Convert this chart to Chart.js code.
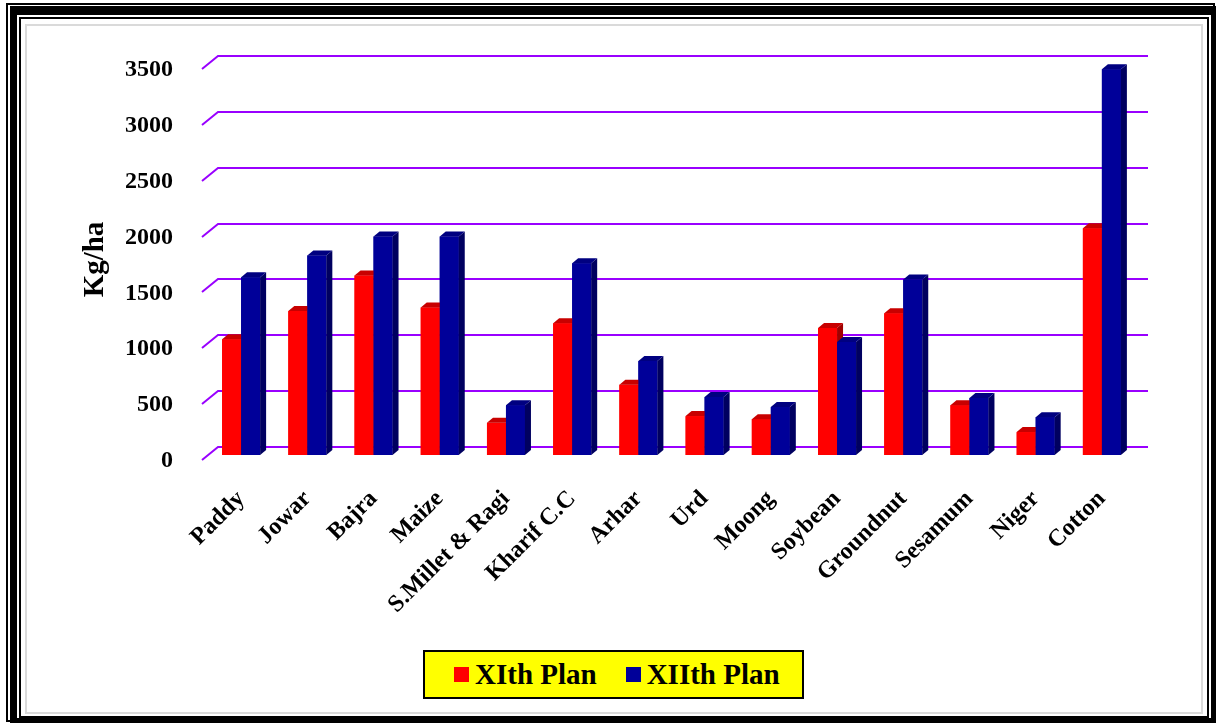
<!DOCTYPE html>
<html>
<head>
<meta charset="utf-8">
<script src="https://cdn.jsdelivr.net/npm/chart.js@4.4.1/dist/chart.umd.min.js"></script>
<style>
  html, body { margin: 0; padding: 0; background: #fff; }
  body { width: 1216px; height: 723px; position: relative; overflow: hidden; font-family: "Liberation Serif", "Times New Roman", serif; }
  .frame { position: absolute; box-sizing: border-box; }
  #f1 { left: 6px; top: 3px; width: 1209px; height: 719px; border: 2px solid #000; }
  #f2 { left: 10px; top: 6px; width: 1206px; height: 717px; border-style: solid; border-color: #000; border-width: 9px 5px 5px 7px; }
  #f3 { left: 19px; top: 17px; width: 1190px; height: 701px; border: 2px solid #000; }
  #f4 { left: 25px; top: 24px; width: 1178px; height: 690px; border: 2px solid #dadada; background: #fff; }
  #chart { position: absolute; left: 0; top: 0; }
  #legend { position: absolute; left: 423px; top: 650px; width: 381px; height: 49px; box-sizing: border-box;
            border: 2px solid #000; background: #ffff00; display: flex; align-items: center; padding-left: 29px;
            white-space: nowrap; }
  .item { display: flex; align-items: center; flex-shrink: 0; margin-right: 29px; font-weight: bold; font-size: 29px; line-height: 1; }
  .swatch { width: 15px; height: 15px; margin-right: 6px; flex-shrink: 0; }
</style>
</head>
<body>
<div class="frame" id="f1"></div>
<div class="frame" id="f2"></div>
<div class="frame" id="f3"></div>
<div class="frame" id="f4"></div>
<canvas id="chart" width="1216" height="723"></canvas>
<div id="legend"></div>
<script>
// Crop yields, Kg/ha
const crops = ['Paddy', 'Jowar', 'Bajra', 'Maize', 'S.Millet & Ragi', 'Kharif C.C', 'Arhar', 'Urd',
  'Moong', 'Soybean', 'Groundnut', 'Sesamum', 'Niger', 'Cotton'];
const planXI = [1036, 1290, 1607, 1321, 288, 1179, 628, 348, 321, 1137, 1268, 446, 205, 2030];
const planXII = [1590, 1786, 1955, 1955, 446, 1717, 842, 520, 429, 1012, 1571, 511, 339, 3452];
const yTicks = [0, 500, 1000, 1500, 2000, 2500, 3000, 3500];

const FONT = '"Liberation Serif", "Times New Roman", serif';

// face colours for the fake 3D columns
const faces = {
  XI: { front: '#ff0000', top: '#c80000', side: '#a00000' },
  XII: { front: '#000099', top: '#000080', side: '#000060' }
};

// purple back-wall grid with the slanted floor stubs on the left
const wallGrid = {
  id: 'wallGrid',
  beforeDatasetsDraw(chart) {
    const { ctx, chartArea: a, scales: { y } } = chart;
    ctx.save();
    ctx.strokeStyle = '#9900ff';
    ctx.lineWidth = 2;
    yTicks.forEach(v => {
      const py = Math.round(y.getPixelForValue(v));
      const back = py - 8;
      ctx.beginPath();
      ctx.moveTo(a.left - 6, py + 5);
      ctx.lineTo(a.left + 10, back);
      ctx.lineTo(a.right + 13, back);
      ctx.stroke();
    });
    ctx.restore();
  }
};

// redraw the columns series by series (left one first) and add top/side faces,
// so each blue front face covers the red side next to it
const columns3d = {
  id: 'columns3d',
  afterDatasetsDraw(chart) {
    const { ctx } = chart;
    const dx = 6, dy = 5;
    ctx.save();
    chart.data.datasets.forEach((ds, i) => {
      const col = ds.faceColors;
      chart.getDatasetMeta(i).data.forEach(bar => {
        bar.draw(ctx);
        const { x, y, base, width } = bar.getProps(['x', 'y', 'base', 'width'], true);
        const xl = x - width / 2, xr = x + width / 2;
        ctx.fillStyle = col.side;
        ctx.beginPath();
        ctx.moveTo(xr, y);
        ctx.lineTo(xr + dx, y - dy);
        ctx.lineTo(xr + dx, base - dy);
        ctx.lineTo(xr, base);
        ctx.closePath();
        ctx.fill();
        ctx.fillStyle = col.top;
        ctx.beginPath();
        ctx.moveTo(xl, y);
        ctx.lineTo(xr, y);
        ctx.lineTo(xr + dx, y - dy);
        ctx.lineTo(xl + dx, y - dy);
        ctx.closePath();
        ctx.fill();
      });
    });
    ctx.restore();
  }
};

const chart = new Chart(document.getElementById('chart'), {
  type: 'bar',
  data: {
    labels: crops,
    datasets: [{
      label: 'XIth Plan',
      data: planXI,
      backgroundColor: faces.XI.front,
      faceColors: faces.XI
    }, {
      label: 'XIIth Plan',
      data: planXII,
      backgroundColor: faces.XII.front,
      faceColors: faces.XII
    }]
  },
  options: {
    responsive: false,
    animation: false,
    layout: { padding: { left: 74, top: 64, right: 81, bottom: 0 } },
    datasets: {
      bar: { categoryPercentage: 0.574, barPercentage: 1.0, borderWidth: 0 }
    },
    plugins: {
      legend: { display: false },
      tooltip: { enabled: false }
    },
    scales: {
      x: {
        grid: { display: false },
        border: { display: false },
        ticks: {
          autoSkip: false,
          maxRotation: 45,
          minRotation: 45,
          padding: 22,
          color: '#000',
          font: { family: FONT, size: 24, weight: 'bold' }
        },
        afterFit(scale) { scale.height = 268; }
      },
      y: {
        min: 0,
        max: 3500,
        grid: { display: false },
        border: { display: false },
        ticks: {
          stepSize: 500,
          padding: 27,
          labelOffset: 6,
          color: '#000',
          font: { family: FONT, size: 24, weight: 'bold' },
          callback: v => String(v)
        },
        title: {
          display: true,
          text: 'Kg/ha',
          color: '#000',
          font: { family: FONT, size: 29, weight: 'bold' }
        },
        afterFit(scale) { scale.width = 134; }
      }
    }
  },
  plugins: [wallGrid, columns3d]
});

// legend box built from the dataset labels
const legendEl = document.getElementById('legend');
chart.data.datasets.forEach(ds => {
  const item = document.createElement('div');
  item.className = 'item';
  const sw = document.createElement('span');
  sw.className = 'swatch';
  sw.style.background = ds.backgroundColor;
  item.appendChild(sw);
  item.appendChild(document.createTextNode(ds.label));
  legendEl.appendChild(item);
});
</script>
</body>
</html>
